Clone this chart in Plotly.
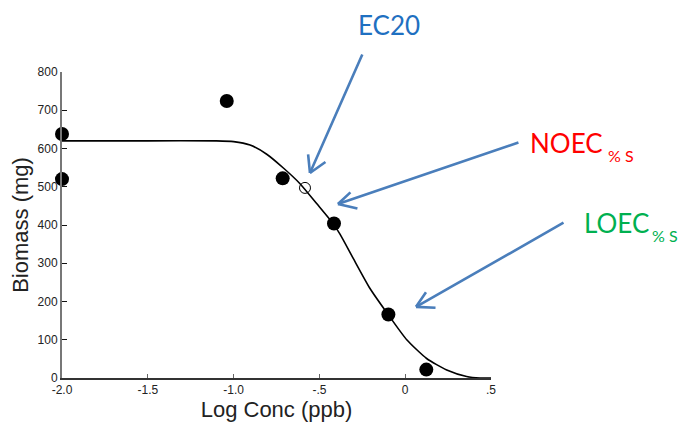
import plotly.graph_objects as go

# observed data
obs_x = [-2.0, -2.0, -1.04, -0.714, -0.415, -0.098, 0.123]
obs_y = [638, 520, 724, 522, 404, 166, 22]

# fitted curve
fit_x = [-2.0, -1.5, -1.1, -1.0, -0.904, -0.807, -0.710, -0.613, -0.516, -0.419,
         -0.380, -0.302, -0.205, -0.098, 0.009, 0.125, 0.242, 0.358, 0.436, 0.5]
fit_y = [620, 620, 620, 618, 609, 585, 549, 508, 456, 403,
         376, 312, 234, 165, 100, 51, 21, 4, 0, 0]

# EC20 point
ec_x = [-0.584]
ec_y = [497]

x_ticks = [-2.0, -1.5, -1.0, -0.5, 0, 0.5]
x_tick_text = ["-2.0", "-1.5", "-1.0", "-.5", "0", ".5"]
y_ticks = [0, 100, 200, 300, 400, 500, 600, 700, 800]

fig = go.Figure()
fig.add_trace(go.Scatter(x=fit_x, y=fit_y, mode="lines",
                         line=dict(color="black", width=1.6, shape="spline", smoothing=0.6),
                         hoverinfo="skip", showlegend=False))
fig.add_trace(go.Scatter(x=obs_x, y=obs_y, mode="markers",
                         marker=dict(color="black", size=14),
                         cliponaxis=False, showlegend=False))
fig.add_trace(go.Scatter(x=ec_x, y=ec_y, mode="markers",
                         marker=dict(color="rgba(0,0,0,0)", size=11,
                                     line=dict(color="black", width=1)),
                         cliponaxis=False, showlegend=False))

arrow_col = "#4A7EBB"
# arrows: (tip x, tip y, shaft tail offset, barb offsets) in screen px
arrows = [
    (-0.555, 536, (53, -120), [(-2, -20), (17, -12)]),
    (-0.392, 455, (182, -62), [(14, -13), (21, 5)]),
    (0.063, 186, (149, -85), [(11, -16), (21, 1)]),
]
anns = []
for tx, ty, tail, barbs in arrows:
    for off in [tail] + barbs:
        anns.append(dict(x=tx, y=ty, xref="x", yref="y", ax=off[0], ay=off[1],
                         axref="pixel", ayref="pixel", text="", showarrow=True,
                         arrowhead=0, arrowwidth=2.6, arrowcolor=arrow_col,
                         standoff=0, startstandoff=0))

lab_font = "Lato, Noto Sans, sans-serif"
labels = [
    # text, x, y, size, colour, anchor
    ("EC20", 0.762, 1.154, 26, "#1F70C1", "center"),
    ("NOEC", 1.086, 0.768, 26, "#FF0000", "left"),
    ("% S", 1.268, 0.726, 16, "#FF0000", "left"),
    ("LOEC", 1.212, 0.507, 26, "#00B050", "left"),
    ("% S", 1.370, 0.465, 16, "#00B050", "left"),
]
for txt, lx, ly, sz, col, anc in labels:
    anns.append(dict(x=lx, y=ly, xref="paper", yref="paper", text=txt,
                     showarrow=False, xanchor=anc, yanchor="middle",
                     font=dict(family=lab_font, size=sz, color=col)))

fig.update_layout(
    width=679, height=421,
    margin=dict(l=54, r=196, t=64, b=51, autoexpand=False),
    paper_bgcolor="white", plot_bgcolor="white",
    font=dict(family="Liberation Sans, Arial, sans-serif", color="#222"),
    annotations=anns,
    showlegend=False,
)
fig.update_xaxes(range=[-2.0, 0.5], tickvals=x_ticks, ticktext=x_tick_text,
                 ticks="inside", ticklen=4, tickcolor="#666", showline=True,
                 linecolor="#333", linewidth=1.5, showgrid=False, zeroline=False,
                 tickfont=dict(size=12), automargin=False,
                 title=dict(text="Log Conc (ppb)", font=dict(size=22), standoff=1))
fig.update_yaxes(range=[0, 800], tickvals=y_ticks,
                 ticks="inside", ticklen=5, tickcolor="#111", showline=True,
                 linecolor="#777", linewidth=2, showgrid=False, zeroline=False,
                 tickfont=dict(size=12), automargin=False,
                 title=dict(text="Biomass (mg)", font=dict(size=22), standoff=4))

fig.write_html("out.html")
